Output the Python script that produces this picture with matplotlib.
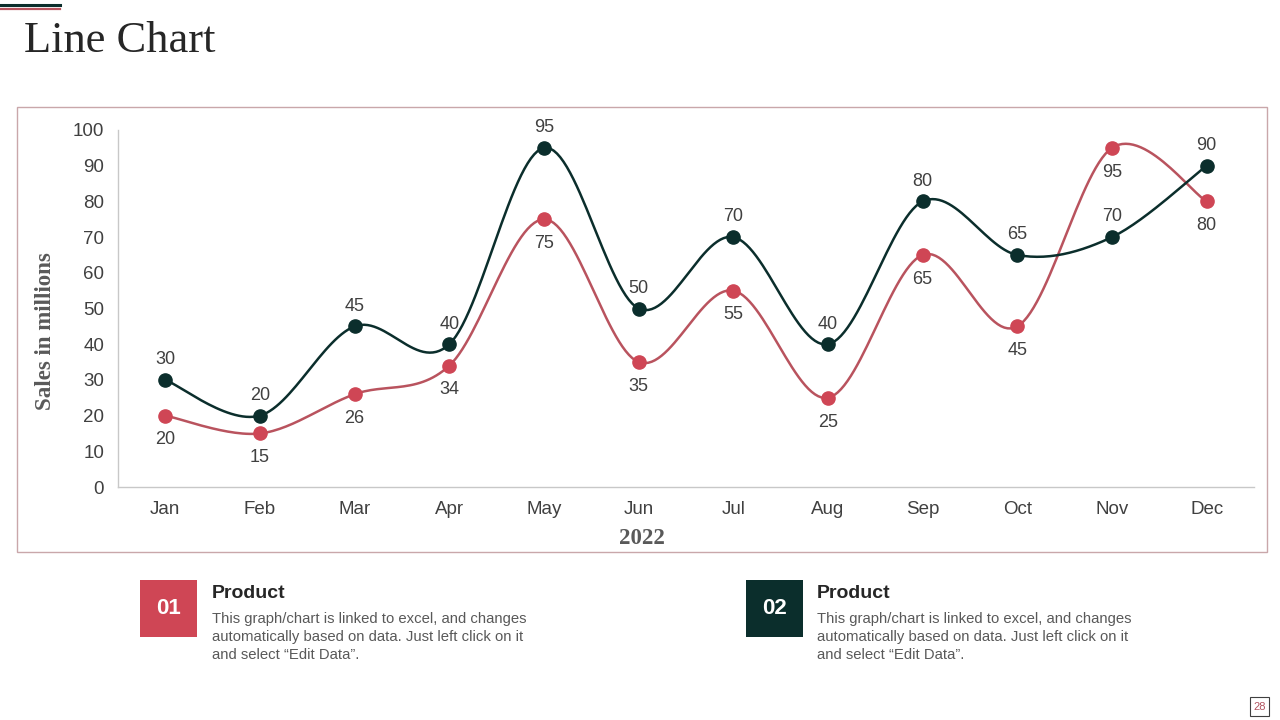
import numpy as np
import matplotlib
matplotlib.use("Agg")
import matplotlib.pyplot as plt
from matplotlib.patches import Rectangle
from matplotlib.lines import Line2D

months = ["Jan", "Feb", "Mar", "Apr", "May", "Jun", "Jul", "Aug", "Sep", "Oct", "Nov", "Dec"]
series_dark = [30, 20, 45, 40, 95, 50, 70, 40, 80, 65, 70, 90]
series_red = [20, 15, 26, 34, 75, 35, 55, 25, 65, 45, 95, 80]
yticks = [0, 10, 20, 30, 40, 50, 60, 70, 80, 90, 100]

DARK = "#0b2e2c"
RED = "#cf4655"
RED_LINE = "#b9535e"
GRAY = "#595959"

W, H = 1280, 720
fig = plt.figure(figsize=(12.8, 7.2), dpi=100)


def fx(px):
    return px / W


def fy(py):
    return 1 - py / H


def smooth(xs, ys, n=30):
    # Bezier smoothing similar to spreadsheet "smoothed line"
    xs = np.asarray(xs, float)
    ys = np.asarray(ys, float)
    P = np.column_stack([xs, ys])
    out = []
    for i in range(len(P) - 1):
        p0 = P[i - 1] if i > 0 else P[i]
        p1 = P[i]
        p2 = P[i + 1]
        p3 = P[i + 2] if i + 2 < len(P) else P[i + 1]
        c1 = p1 + (p2 - p0) / 6.0
        c2 = p2 - (p3 - p1) / 6.0
        t = np.linspace(0, 1, n)[:, None]
        seg = ((1 - t) ** 3) * p1 + 3 * ((1 - t) ** 2) * t * c1 + 3 * (1 - t) * t ** 2 * c2 + t ** 3 * p2
        if i > 0:
            seg = seg[1:]
        out.append(seg)
    out = np.vstack(out)
    return out[:, 0], out[:, 1]


# decorative top-left lines
fig.add_artist(Line2D([0, fx(60)], [fy(5), fy(5)], color=DARK, lw=2.2))
fig.add_artist(Line2D([0, fx(60)], [fy(8.5), fy(8.5)], color=RED_LINE, lw=1.6))

# title
fig.text(fx(24), fy(41), "Line Chart", fontsize=32, family="Liberation Serif",
         color="#262626", va="center", ha="left")

# chart border
fig.add_artist(Rectangle((fx(17), fy(552)), fx(1267) - fx(17), fy(107) - fy(552),
                         fill=False, edgecolor="#c9a7aa", lw=1.0, transform=fig.transFigure))

ax = fig.add_axes([fx(118), fy(487), fx(1254) - fx(118), fy(130) - fy(487)])
x = np.arange(len(months))

xd, yd = smooth(x, series_dark)
xr, yr = smooth(x, series_red)
ax.plot(xr, yr, color=RED_LINE, lw=1.8, zorder=2)
ax.plot(xd, yd, color=DARK, lw=1.8, zorder=3)
ax.plot(x, series_red, "o", color=RED, ms=9.5, zorder=4)
ax.plot(x, series_dark, "o", color=DARK, ms=9.5, zorder=5)

for xi, v in zip(x, series_dark):
    ax.annotate(str(v), (xi, v), xytext=(0, 14.5), textcoords="offset points",
                ha="center", va="center", fontsize=13, color="#404040", family="Liberation Sans")
for xi, v in zip(x, series_red):
    ax.annotate(str(v), (xi, v), xytext=(0, -17.5), textcoords="offset points",
                ha="center", va="center", fontsize=13, color="#404040", family="Liberation Sans")

ax.set_xlim(-0.5, 11.5)
ax.set_ylim(0, 100)
ax.set_xticks(x)
ax.set_xticklabels(months)
ax.set_yticks(yticks)
ax.tick_params(length=0, labelsize=13.5, labelcolor="#404040", pad=10)
ax.tick_params(axis="y", pad=10)
for lab in ax.get_xticklabels() + ax.get_yticklabels():
    lab.set_family("Liberation Sans")
for s in ["top", "right"]:
    ax.spines[s].set_visible(False)
for s in ["left", "bottom"]:
    ax.spines[s].set_color("#c8c8c8")
    ax.spines[s].set_linewidth(1.0)
ax.patch.set_alpha(0)

fig.text(fx(46), fy(331), "Sales in millions", rotation=90, fontsize=16.5, fontweight="bold",
         family="Liberation Serif", color=GRAY, ha="center", va="center")
fig.text(fx(642), fy(539), "2022", fontsize=16.5, fontweight="bold",
         family="Liberation Serif", color=GRAY, ha="center", va="center")

# bottom legend blocks
body = "This graph/chart is linked to excel, and changes\nautomatically based on data. Just left click on it\nand select \u201cEdit Data\u201d."
for bx, tx, col, num in [(140, 212, RED, "01"), (746, 817, DARK, "02")]:
    fig.add_artist(Rectangle((fx(bx), fy(637)), fx(57), fy(580) - fy(637),
                             facecolor=col, edgecolor="none", transform=fig.transFigure))
    fig.text(fx(bx + 28.5), fy(608.5), num, fontsize=16, fontweight="bold", color="white",
             ha="center", va="center", family="Liberation Sans")
    fig.text(fx(tx), fy(594), "Product", fontsize=14, fontweight="bold", color="#262626",
             ha="left", va="center", family="Liberation Sans")
    fig.text(fx(tx), fy(612), body, fontsize=10.7, color=GRAY, ha="left", va="top",
             family="Liberation Sans", linespacing=1.38)

# page number
fig.add_artist(Rectangle((fx(1250), fy(716)), fx(19), fy(697) - fy(716),
                         fill=False, edgecolor="#404040", lw=0.8, transform=fig.transFigure))
fig.text(fx(1259.5), fy(706.5), "28", fontsize=8, color="#b35561", ha="center", va="center",
         family="Liberation Sans")

fig.savefig("out.png", dpi=100)
